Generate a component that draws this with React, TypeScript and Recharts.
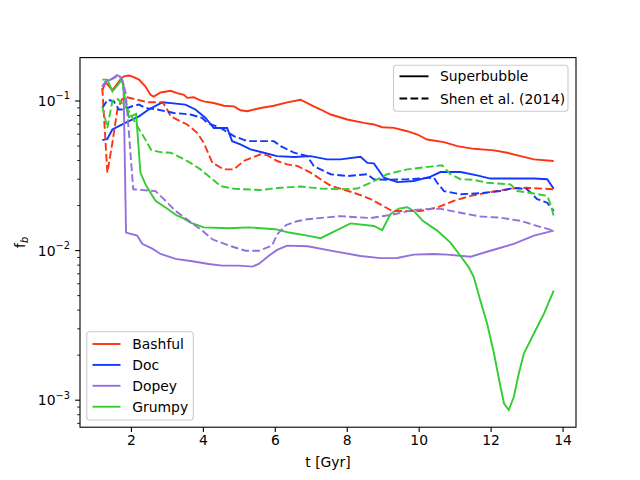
import { LineChart, Line, XAxis, YAxis } from "recharts";

// [t in Gyr, f_b]
const bashfulSuper: [number, number][] = [
  [1.19, 0.118], [1.28, 0.133], [1.37, 0.126], [1.47, 0.118], [1.6, 0.13], [1.72, 0.142],
  [1.79, 0.146], [1.93, 0.148], [2.05, 0.145], [2.21, 0.139], [2.39, 0.125], [2.53, 0.11],
  [2.62, 0.107], [2.81, 0.114], [3.09, 0.117], [3.27, 0.113], [3.46, 0.11], [3.55, 0.105],
  [3.73, 0.106], [3.87, 0.102], [4.01, 0.0995], [4.29, 0.097], [4.57, 0.093], [4.85, 0.092],
  [5.03, 0.0867], [5.22, 0.0854], [5.59, 0.0898], [5.96, 0.093], [6.33, 0.098], [6.7, 0.102],
  [7.07, 0.092], [7.26, 0.0877], [7.54, 0.0812], [8.0, 0.0752], [8.46, 0.0714], [8.74, 0.0697],
  [8.97, 0.0668], [9.3, 0.0661], [9.67, 0.0628], [9.95, 0.0597], [10.22, 0.0553], [10.69, 0.0531],
  [11.06, 0.0499], [11.52, 0.0479], [12.08, 0.0468], [12.45, 0.0451], [12.82, 0.0428],
  [13.19, 0.0407], [13.74, 0.0397],
];
const bashfulShen: [number, number][] = [
  [1.19, 0.122], [1.33, 0.0332], [1.47, 0.0525], [1.61, 0.088], [1.74, 0.1026], [1.88, 0.106],
  [2.16, 0.102], [2.44, 0.098], [2.86, 0.098], [2.95, 0.092], [3.09, 0.079], [3.27, 0.075],
  [3.55, 0.0697], [3.83, 0.0612], [4.01, 0.0525], [4.25, 0.0386], [4.57, 0.0349], [4.85, 0.0349],
  [5.12, 0.0397], [5.59, 0.044], [5.78, 0.0433], [6.05, 0.0397], [6.33, 0.0377], [6.61, 0.0368],
  [6.98, 0.0332], [7.26, 0.03], [7.54, 0.0271], [8.18, 0.0244], [8.65, 0.0221], [9.25, 0.0184],
  [9.67, 0.0184], [10.04, 0.0184], [10.5, 0.0194], [10.96, 0.0215], [11.43, 0.0232],
  [11.89, 0.0244], [12.54, 0.0259], [13.0, 0.0263], [13.74, 0.0257],
];
const docSuper: [number, number][] = [
  [1.19, 0.0547], [1.33, 0.0558], [1.47, 0.0645], [1.65, 0.0679], [1.93, 0.0733], [2.21, 0.079],
  [2.48, 0.0877], [2.86, 0.098], [3.23, 0.096], [3.5, 0.0946], [3.78, 0.0877], [4.06, 0.077],
  [4.29, 0.066], [4.66, 0.066], [4.8, 0.0539], [5.03, 0.0513], [5.31, 0.0475], [5.68, 0.0451],
  [6.05, 0.0428], [6.52, 0.0422], [6.98, 0.0428], [7.44, 0.0407], [7.81, 0.0407], [8.37, 0.0424],
  [8.56, 0.0386], [8.74, 0.0383], [9.02, 0.0307], [9.39, 0.0287], [9.85, 0.0292], [10.32, 0.0312],
  [10.59, 0.0335], [11.15, 0.0335], [11.61, 0.0318], [11.98, 0.0303], [12.63, 0.0303],
  [13.19, 0.0303], [13.56, 0.03], [13.74, 0.0259],
];
const docShen: [number, number][] = [
  [1.19, 0.0898], [1.34, 0.102], [1.51, 0.0995], [1.65, 0.0877], [1.79, 0.0877], [2.02, 0.0922],
  [2.21, 0.0946], [2.39, 0.0898], [2.72, 0.0877], [3.18, 0.0832], [3.64, 0.0812], [3.97, 0.077],
  [4.11, 0.0714], [4.48, 0.066], [4.85, 0.0582], [5.22, 0.0539], [5.96, 0.0539], [6.15, 0.0499],
  [6.52, 0.0451], [6.89, 0.0428], [7.07, 0.0367], [7.54, 0.0324], [8.0, 0.0315], [8.56, 0.0324],
  [8.74, 0.03], [9.11, 0.0297], [9.67, 0.03], [10.41, 0.0307], [10.5, 0.0284], [10.69, 0.025],
  [11.15, 0.0238], [11.71, 0.0242], [12.26, 0.025], [12.63, 0.0263], [13.0, 0.0257],
  [13.28, 0.0221], [13.56, 0.0209], [13.74, 0.0184],
];
const dopeySuper: [number, number][] = [
  [1.19, 0.125], [1.3, 0.135], [1.45, 0.14], [1.6, 0.149], [1.7, 0.145], [1.78, 0.13],
  [1.85, 0.0132], [2.16, 0.0126], [2.3, 0.0111], [2.58, 0.0103], [2.81, 0.0095], [3.23, 0.0088],
  [3.69, 0.00848], [4.15, 0.00814], [4.52, 0.00794], [4.99, 0.00794], [5.36, 0.00782],
  [5.54, 0.00814], [5.82, 0.00924], [6.05, 0.0101], [6.33, 0.0108], [6.9, 0.0107], [7.54, 0.01],
  [8.37, 0.0092], [8.92, 0.0089], [9.39, 0.00893], [9.85, 0.0094], [10.41, 0.0095], [10.78, 0.0094],
  [11.43, 0.0091], [11.98, 0.00998], [12.63, 0.0111], [13.19, 0.0126], [13.74, 0.0136],
];
const dopeyShen: [number, number][] = [
  [1.19, 0.125], [1.28, 0.135], [1.51, 0.142], [1.63, 0.148], [1.74, 0.139], [1.84, 0.113],
  [1.93, 0.0612], [2.05, 0.0257], [2.67, 0.025], [2.86, 0.0226], [3.23, 0.0184], [3.6, 0.0158],
  [3.97, 0.0136], [4.25, 0.0119], [4.71, 0.0108], [5.17, 0.00998], [5.54, 0.00998], [5.91, 0.0108],
  [6.05, 0.0128], [6.3, 0.0148], [6.6, 0.0157], [6.9, 0.0162], [7.8, 0.017], [8.65, 0.0165],
  [9.2, 0.0173], [9.85, 0.0187], [10.4, 0.0191], [10.6, 0.019], [11.15, 0.0179], [11.7, 0.0169],
  [12.26, 0.0166], [12.82, 0.0158], [13.2, 0.0148], [13.74, 0.0136],
];
const grumpySuper: [number, number][] = [
  [1.19, 0.139], [1.33, 0.139], [1.47, 0.116], [1.62, 0.128], [1.74, 0.139], [1.8, 0.11],
  [1.93, 0.078], [2.13, 0.082], [2.25, 0.0332], [2.39, 0.0277], [2.53, 0.0244], [2.67, 0.0215],
  [2.81, 0.0204], [2.95, 0.0194], [3.27, 0.0171], [3.41, 0.0166], [3.64, 0.0154], [4.01, 0.0143],
  [4.71, 0.0141], [5.26, 0.0143], [6.0, 0.0139], [6.38, 0.0132], [6.89, 0.0126], [7.26, 0.0121],
  [7.63, 0.0134], [8.09, 0.0152], [8.74, 0.0146], [8.97, 0.0137], [9.2, 0.0175], [9.43, 0.0191],
  [9.67, 0.0195], [9.85, 0.0184], [10.1, 0.0158], [10.5, 0.0136], [10.87, 0.0113], [11.15, 0.0092],
  [11.38, 0.00773], [11.52, 0.00663], [11.7, 0.00464], [11.89, 0.00324], [12.08, 0.00205],
  [12.26, 0.00123], [12.36, 0.00095], [12.49, 0.00086], [12.63, 0.00105], [12.77, 0.00151],
  [12.91, 0.00205], [13.19, 0.00279], [13.47, 0.00379], [13.74, 0.0054],
];
const grumpyShen: [number, number][] = [
  [1.19, 0.092], [1.33, 0.066], [1.47, 0.1], [1.6, 0.104], [1.79, 0.094], [1.93, 0.085],
  [2.16, 0.068], [2.39, 0.055], [2.55, 0.047], [2.8, 0.0455], [3.09, 0.0451], [3.36, 0.042],
  [3.64, 0.0386], [3.92, 0.0349], [4.2, 0.0307], [4.48, 0.027], [4.85, 0.0259], [5.59, 0.0254],
  [6.15, 0.0263], [6.7, 0.0268], [7.26, 0.026], [7.81, 0.0257], [8.28, 0.026], [8.65, 0.0284],
  [9.11, 0.0324], [9.67, 0.0349], [10.04, 0.0358], [10.32, 0.0364], [10.64, 0.0372],
  [10.87, 0.0324], [11.15, 0.03], [11.52, 0.0297], [11.89, 0.0284], [12.54, 0.0277],
  [12.73, 0.025], [13.19, 0.0241], [13.56, 0.0232], [13.65, 0.0205], [13.74, 0.0171],
];

const xTicks = [2, 4, 6, 8, 10, 12, 14];
const yTicks = [
  7e-4, 8e-4, 9e-4, 1e-3, 2e-3, 3e-3, 4e-3, 5e-3, 6e-3, 7e-3, 8e-3, 9e-3,
  1e-2, 2e-2, 3e-2, 4e-2, 5e-2, 6e-2, 7e-2, 8e-2, 9e-2, 1e-1,
];

const RED = "#ff3311";
const BLUE = "#1238ff";
const PURPLE = "#9370db";
const GREEN = "#33cc33";
const FONT = "DejaVu Sans";
const DASH = "7.7 3.3";
const LW = 1.9;

const series = [
  { name: "Bashful", color: RED, superb: bashfulSuper, shen: bashfulShen },
  { name: "Doc", color: BLUE, superb: docSuper, shen: docShen },
  { name: "Dopey", color: PURPLE, superb: dopeySuper, shen: dopeyShen },
  { name: "Grumpy", color: GREEN, superb: grumpySuper, shen: grumpyShen },
];

const toRows = (pts: [number, number][]) => pts.map(([t, f]) => ({ t, f }));

function LogTick(props: any) {
  const { y, payload } = props;
  const lg = Math.log10(payload.value);
  const e = Math.round(lg);
  const major = Math.abs(lg - e) < 1e-6;
  return (
    <g>
      <line x1={80} x2={80 - (major ? 4.9 : 2.8)} y1={y} y2={y} stroke="#000" strokeWidth={major ? 1.1 : 0.85} />
      {major && (
        <text x={70} y={y + 5} textAnchor="end" fontSize={13.9} fontFamily={FONT} fill="#000">
          10
          <tspan dy={-6.5} fontSize={9.8}>{"\u2212" + -e}</tspan>
        </text>
      )}
    </g>
  );
}

export default function App() {
  return (
    <div style={{ position: "absolute", left: 0, top: 0, width: 640, height: 480, background: "#fff" }}>
      <LineChart width={640} height={480} margin={{ top: 57.6, right: 64, bottom: 0, left: 0 }}>
        <XAxis
          type="number"
          dataKey="t"
          domain={[0.57, 14.36]}
          allowDataOverflow
          ticks={xTicks}
          interval={0}
          height={52.8}
          axisLine={false}
          tickSize={4.9}
          tickMargin={3.5}
          tickLine={{ stroke: "#000", strokeWidth: 1.1 }}
          tick={{ fontSize: 13.9, fontFamily: FONT, fill: "#000" }}
        />
        <YAxis
          type="number"
          scale="log"
          domain={[6.6e-4, 0.195]}
          allowDataOverflow
          ticks={yTicks}
          interval={0}
          width={80}
          axisLine={false}
          tickLine={false}
          tick={<LogTick />}
        />
        {series.map((s) => (
          <Line
            key={s.name + "-sb"}
            data={toRows(s.superb)}
            dataKey="f"
            type="linear"
            stroke={s.color}
            strokeWidth={LW}
            dot={false}
            isAnimationActive={false}
          />
        ))}
        {series.map((s) => (
          <Line
            key={s.name + "-shen"}
            data={toRows(s.shen)}
            dataKey="f"
            type="linear"
            stroke={s.color}
            strokeWidth={LW}
            strokeDasharray={DASH}
            dot={false}
            isAnimationActive={false}
          />
        ))}
      </LineChart>
      <svg
        width={640}
        height={480}
        style={{ position: "absolute", left: 0, top: 0, pointerEvents: "none" }}
      >
        <rect x={80} y={57.6} width={496} height={369.6} fill="none" stroke="#000" strokeWidth={1.1} />
        <text x={328} y={467} textAnchor="middle" fontSize={13.9} fontFamily={FONT} fill="#000">
          t [Gyr]
        </text>
        <text
          transform="translate(25,242.4) rotate(-90)"
          textAnchor="middle"
          fontSize={13.9}
          fontFamily={FONT}
          fill="#000"
        >
          f<tspan dy={3} fontSize={9.8} fontStyle="italic">b</tspan>
        </text>

        <rect x={393.5} y={65.3} width={174.5} height={46} rx={3} fill="#fff" fillOpacity={0.8} stroke="#cccccc" strokeWidth={1.1} />
        <line x1={399.5} x2={428.5} y1={76.3} y2={76.3} stroke="#000" strokeWidth={LW} />
        <text x={440} y={81.3} fontSize={13.9} fontFamily={FONT} fill="#000">Superbubble</text>
        <line x1={399.5} x2={428.5} y1={98.5} y2={98.5} stroke="#000" strokeWidth={LW} strokeDasharray={DASH} />
        <text x={440} y={103.5} fontSize={13.9} fontFamily={FONT} fill="#000">Shen et al. (2014)</text>

        <rect x={86.7} y={331.7} width={106.6} height={88.3} rx={3} fill="#fff" fillOpacity={0.8} stroke="#cccccc" strokeWidth={1.1} />
        {series.map((s, i) => (
          <g key={s.name}>
            <line x1={92.5} x2={120.5} y1={344 + i * 20.9} y2={344 + i * 20.9} stroke={s.color} strokeWidth={LW} />
            <text x={132.3} y={349 + i * 20.9} fontSize={13.9} fontFamily={FONT} fill="#000">{s.name}</text>
          </g>
        ))}
      </svg>
    </div>
  );
}
